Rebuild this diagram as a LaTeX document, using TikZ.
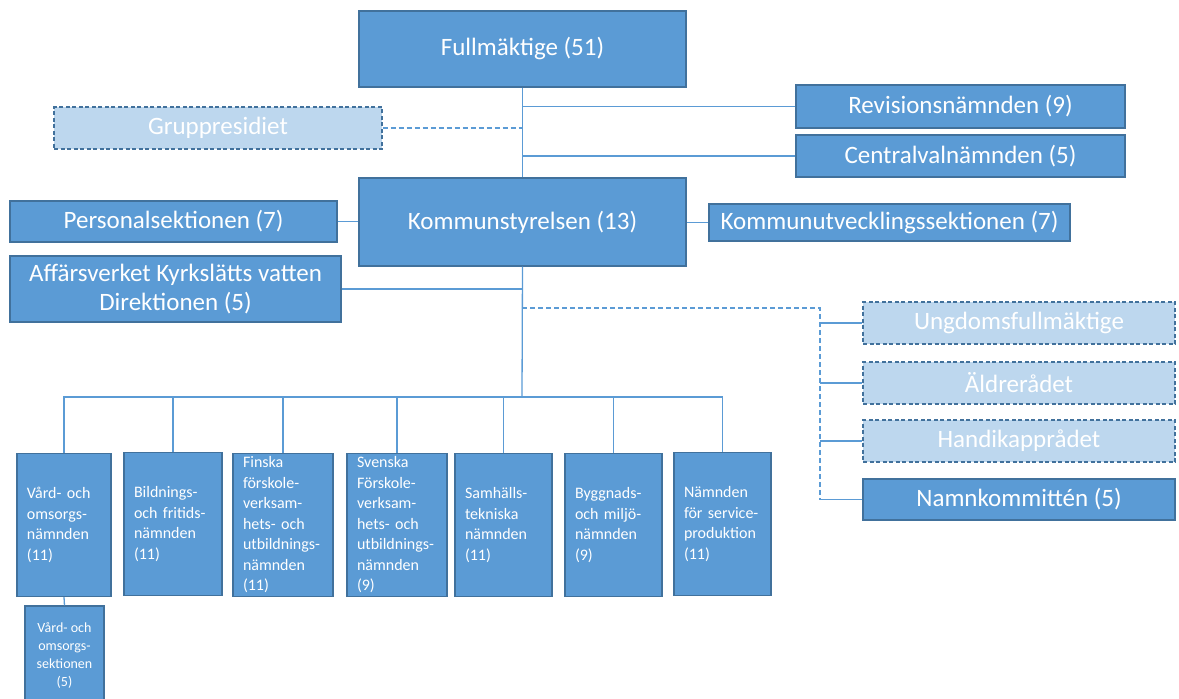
\documentclass[tikz,border=0pt]{standalone}
\usepackage{fontspec}
\setmainfont{Carlito}
\usetikzlibrary{positioning}
\definecolor{boxBlue}{HTML}{5B9BD5}
\definecolor{boxEdge}{HTML}{41719C}
\definecolor{paleBlue}{HTML}{BDD7EE}
\tikzstyle{bigBox}=[draw=boxEdge, fill=boxBlue, line width=1.2pt, text=white, inner sep=0pt, align=center, font=\fontsize{25}{29}\selectfont]
\tikzstyle{paleBox}=[bigBox, fill=paleBlue, dash pattern=on 4pt off 2.5pt]
\tikzstyle{tallBox}=[draw=boxEdge, fill=boxBlue, line width=1.2pt, text=white, inner xsep=10pt, inner ysep=0pt, minimum height=143pt, align=left, font=\fontsize{16}{20.5}\selectfont]
\tikzstyle{orgLine}=[draw=boxBlue, line width=1.3pt]
\tikzstyle{orgDashed}=[orgLine, dash pattern=on 5pt off 3pt]

\begin{document}
\begin{tikzpicture}[x=1pt, y=-1pt]
    \useasboundingbox (0,0) rectangle (1179,699);

    % Top
    \node[bigBox, minimum width=327pt, minimum height=76pt] (full) at (522.5, 49) {Fullmäktige (51)};
    \node[bigBox, minimum width=329pt, minimum height=43pt] (rev) at (960.5, 106.5) {Revisionsnämnden (9)};
    \node[bigBox, minimum width=329pt, minimum height=42pt] (cv) at (960.5, 156) {Centralvalnämnden (5)};
    \node[paleBox, minimum width=328pt, minimum height=42pt] (grp) at (218, 128) {Gruppresidiet};

    % Kommunstyrelsen
    \node[bigBox, minimum width=327pt, minimum height=88pt] (ks) at (522.5, 222) {Kommunstyrelsen (13)};
    \node[bigBox, minimum width=327pt, minimum height=41pt] (pers) at (173.5, 221.5) {Personalsektionen (7)};
    \node[bigBox, minimum width=361pt, minimum height=37pt] (kus) at (889.5, 222.5) {Kommunutvecklingssektionen (7)};
    \node[bigBox, minimum width=331pt, minimum height=66pt] (aff) at (175.5, 289) {Affärsverket Kyrkslätts vatten\\Direktionen (5)};

    % Right side
    \node[paleBox, minimum width=312pt, minimum height=42pt] (ung) at (1019, 323) {Ungdomsfullmäktige};
    \node[paleBox, minimum width=312pt, minimum height=42pt] (ald) at (1019, 383) {Äldrerådet};
    \node[paleBox, minimum width=312pt, minimum height=42pt] (hand) at (1019, 441) {Handikapprådet};
    \node[bigBox, minimum width=312pt, minimum height=41pt] (namn) at (1019, 499.5) {Namnkommittén (5)};

    % Nämnder
    \node[tallBox, text width=74pt] (vard) at (64, 525) {Vård- och\\omsorgs-\\nämnden\\(11)};
    \node[tallBox, text width=78pt] (bild) at (173, 524) {Bildnings-\\och fritids-\\nämnden\\(11)};
    \node[tallBox, text width=80pt] (fin) at (283, 525) {Finska\\förskole-\\verksam-\\hets- och\\utbildnings-\\nämnden\\(11)};
    \node[tallBox, text width=80pt] (sve) at (397, 525) {Svenska\\Förskole-\\verksam-\\hets- och\\utbildnings-\\nämnden\\(9)};
    \node[tallBox, text width=77pt] (sam) at (503.5, 525) {Samhälls-\\tekniska\\nämnden\\(11)};
    \node[tallBox, text width=77pt] (bygg) at (613.5, 525) {Byggnads-\\och miljö-\\nämnden\\(9)};
    \node[tallBox, text width=77pt] (serv) at (722.5, 524) {Nämnden\\för service-\\produktion\\(11)};
    \node[tallBox, inner xsep=0pt, minimum width=79pt, minimum height=99pt, align=center, font=\fontsize{14}{17.7}\selectfont] (vsek) at (64.5, 655.5) {Vård- och\\omsorgs-\\sektionen\\(5)};

    \coordinate (busMid) at (522, 397);
    \coordinate (advTop) at (522, 308);
    \coordinate (advCorner) at (820, 308);

    % Lines
    \draw[orgLine] (full.south) -- (ks.north);
    \draw[orgLine] (rev.west) -- (rev.west -| full.south);
    \draw[orgLine] (cv.west) -- (cv.west -| full.south);
    \draw[orgDashed] (grp.east) -- (grp.east -| full.south);
    \draw[orgLine] (pers.east) -- (pers.east -| ks.west);
    \draw[orgLine] (kus.west) -- (kus.west -| ks.east);
    \draw[orgLine] (ks.south) -- (busMid);
    \draw[orgLine] (aff.east) -- (aff.east -| ks.south);
    \draw[orgDashed] (advTop) -- (advCorner) -- (advCorner |- namn.west);
    \foreach \n in {ung, ald, hand, namn}
        \draw[orgLine] (\n.west) -- (\n.west -| advCorner);
    \foreach \n in {vard, bild, fin, sve, sam, bygg, serv}
        \draw[orgLine] (\n.north) |- (busMid);
    \draw[orgLine] (vard.south) -- (vsek.north);

\end{tikzpicture}
\end{document}
